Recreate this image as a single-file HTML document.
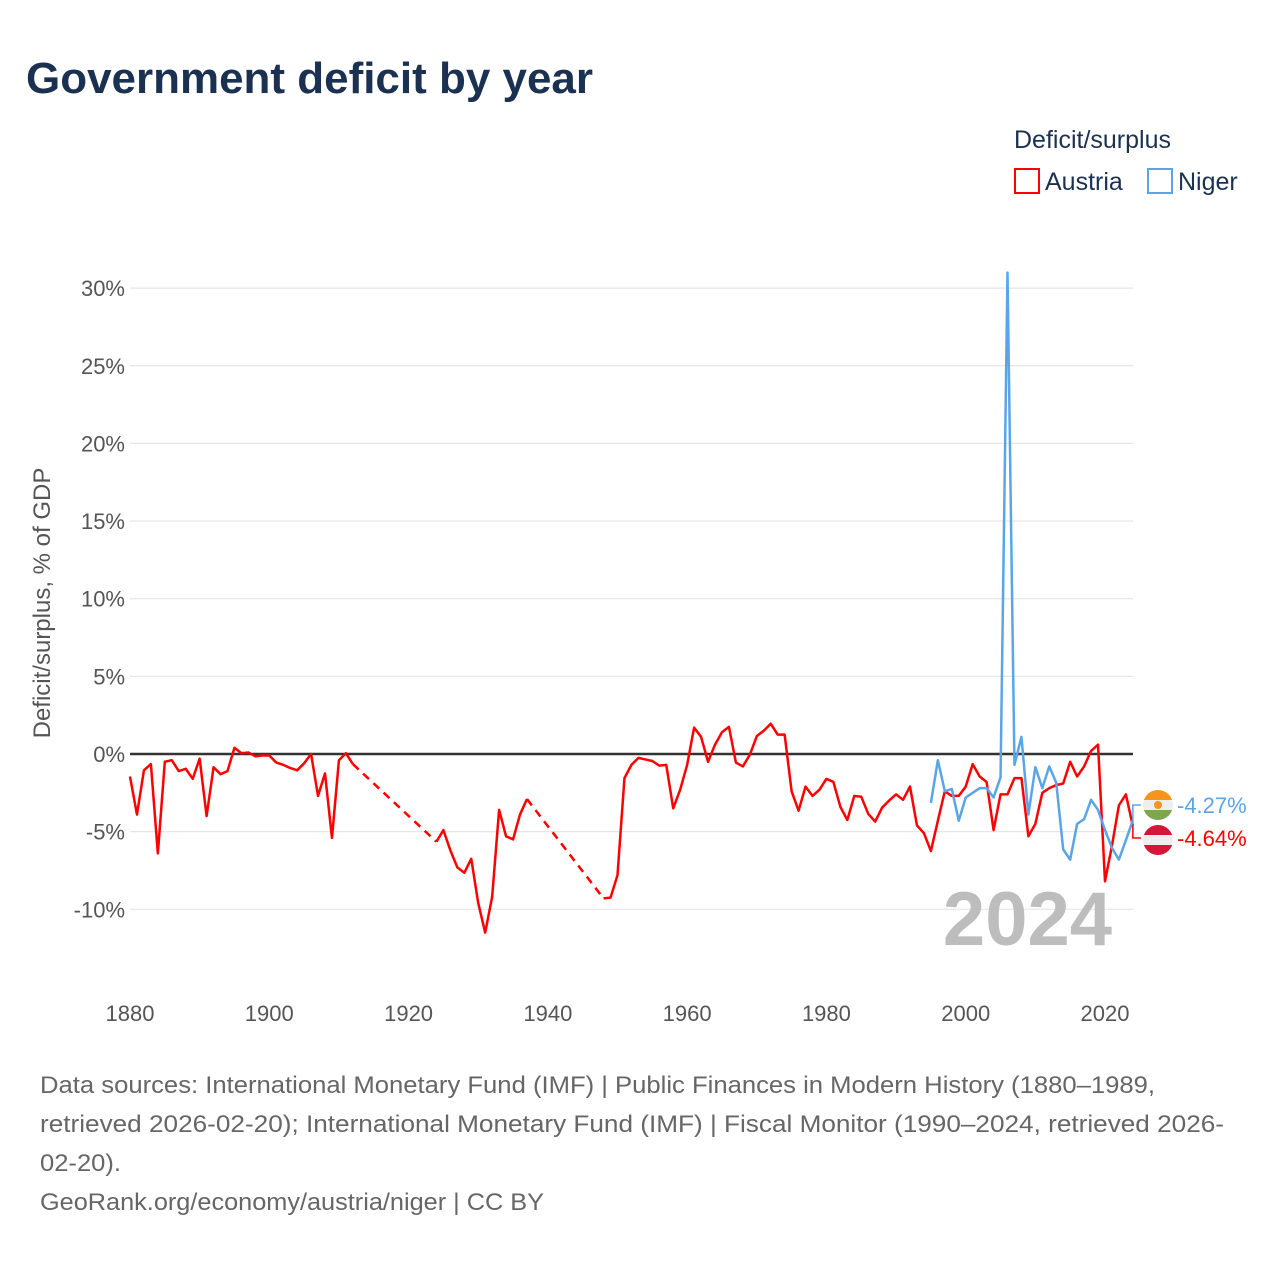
<!DOCTYPE html>
<html><head><meta charset="utf-8"><style>
body{margin:0;background:#fff;font-family:"Liberation Sans",sans-serif;}
#wrap{position:relative;width:1280px;height:1280px;overflow:hidden;}
</style></head><body>
<div id="wrap">
<svg id="chart" width="1280" height="1280" xmlns="http://www.w3.org/2000/svg">
<text x="26" y="93" font-size="44" font-weight="bold" fill="#1b3151" textLength="567" lengthAdjust="spacingAndGlyphs">Government deficit by year</text>
<text x="1014" y="148" font-size="25" fill="#1b3151">Deficit/surplus</text>
<g><rect x="1015" y="169" width="24" height="24" fill="none" stroke="#f00" stroke-width="2"/><text x="1045" y="190" font-size="25" fill="#1b3151">Austria</text></g>
<g><rect x="1148" y="169" width="24" height="24" fill="none" stroke="#5aa5e8" stroke-width="2"/><text x="1178" y="190" font-size="25" fill="#1b3151">Niger</text></g>
<g id="grid"></g><g id="yticks"></g><g id="xticks"></g>
<text transform="translate(50,603) rotate(-90)" text-anchor="middle" font-size="24" fill="#555">Deficit/surplus, % of GDP</text>
<text x="1112" y="945" text-anchor="end" font-size="76" font-weight="bold" fill="#bdbdbd">2024</text>
<g id="series"></g>
<g id="endlabels"></g>
<g font-size="24" fill="#666">
<text x="40" y="1093" textLength="1115" lengthAdjust="spacingAndGlyphs">Data sources: International Monetary Fund (IMF) | Public Finances in Modern History (1880–1989,</text>
<text x="40" y="1132" textLength="1184" lengthAdjust="spacingAndGlyphs">retrieved 2026-02-20); International Monetary Fund (IMF) | Fiscal Monitor (1990–2024, retrieved 2026-</text>
<text x="40" y="1171" textLength="81" lengthAdjust="spacingAndGlyphs">02-20).</text>
<text x="40" y="1210" textLength="504" lengthAdjust="spacingAndGlyphs">GeoRank.org/economy/austria/niger | CC BY</text>
</g>
</svg>
</div>
<script>
const austriaYears=[1880,1881,1882,1883,1884,1885,1886,1887,1888,1889,1890,1891,1892,1893,1894,1895,1896,1897,1898,1899,1900,1901,1902,1903,1904,1905,1906,1907,1908,1909,1910,1911,1912,1924,1925,1926,1927,1928,1929,1930,1931,1932,1933,1934,1935,1936,1937,1948,1949,1950,1951,1952,1953,1954,1955,1956,1957,1958,1959,1960,1961,1962,1963,1964,1965,1966,1967,1968,1969,1970,1971,1972,1973,1974,1975,1976,1977,1978,1979,1980,1981,1982,1983,1984,1985,1986,1987,1988,1989,1990,1991,1992,1993,1994,1995,1996,1997,1998,1999,2000,2001,2002,2003,2004,2005,2006,2007,2008,2009,2010,2011,2012,2013,2014,2015,2016,2017,2018,2019,2020,2021,2022,2023,2024];
const austriaValues=[-1.45,-3.9,-1.05,-0.65,-6.4,-0.5,-0.4,-1.1,-0.95,-1.6,-0.3,-4.0,-0.85,-1.3,-1.1,0.4,0.05,0.1,-0.15,-0.1,-0.1,-0.55,-0.7,-0.9,-1.05,-0.6,0,-2.7,-1.25,-5.4,-0.4,0.05,-0.65,-5.65,-4.9,-6.2,-7.3,-7.65,-6.75,-9.6,-11.5,-9.2,-3.6,-5.3,-5.5,-3.9,-2.9,-9.3,-9.25,-7.8,-1.55,-0.7,-0.25,-0.35,-0.45,-0.75,-0.7,-3.5,-2.3,-0.7,1.7,1.1,-0.5,0.6,1.4,1.75,-0.55,-0.8,-0.05,1.15,1.5,1.95,1.25,1.25,-2.4,-3.65,-2.1,-2.7,-2.3,-1.6,-1.8,-3.4,-4.25,-2.7,-2.75,-3.85,-4.35,-3.45,-3.0,-2.6,-2.95,-2.1,-4.6,-5.1,-6.25,-4.3,-2.4,-2.7,-2.7,-2.1,-0.65,-1.45,-1.8,-4.9,-2.6,-2.6,-1.55,-1.55,-5.3,-4.5,-2.5,-2.2,-2.0,-1.9,-0.5,-1.45,-0.8,0.2,0.6,-8.2,-5.9,-3.3,-2.6,-4.64];
const nigerYears=[1995,1996,1997,1998,1999,2000,2001,2002,2003,2004,2005,2006,2007,2008,2009,2010,2011,2012,2013,2014,2015,2016,2017,2018,2019,2020,2021,2022,2023,2024];
const nigerValues=[-3.15,-0.4,-2.4,-2.25,-4.3,-2.8,-2.5,-2.2,-2.2,-2.8,-1.5,31.0,-0.7,1.1,-3.9,-0.85,-2.2,-0.8,-1.85,-6.15,-6.8,-4.5,-4.2,-2.95,-3.6,-4.9,-6.05,-6.8,-5.55,-4.27];
const yTicks=[-10,-5,0,5,10,15,20,25,30];
const xTicks=[1880,1900,1920,1940,1960,1980,2000,2020];

const NS='http://www.w3.org/2000/svg';
const X0=130,X1=1105,Y0=754,PX=15.53;
const xs=y=>X0+(y-1880)*(X1-X0)/140;
const ys=v=>Y0-v*PX;
function mk(tag,attrs,parent){const e=document.createElementNS(NS,tag);for(const k in attrs)e.setAttribute(k,attrs[k]);parent.appendChild(e);return e;}
const grid=document.getElementById('grid'),yt=document.getElementById('yticks'),xt=document.getElementById('xticks');
yTicks.forEach(t=>{
  const l=mk('line',{x1:130,x2:1133,y1:ys(t),y2:ys(t),stroke:t===0?'#333':'#e6e6e6','stroke-width':t===0?2.5:1.2},grid);
  
  
  const tx=mk('text',{x:125,y:ys(t)+8,'text-anchor':'end','font-size':22,fill:'#555'},yt);
  tx.textContent=t+'%';
  
  
});
xTicks.forEach(t=>{
  const tx=mk('text',{x:xs(t),y:1021,'text-anchor':'middle','font-size':22,fill:'#555'},xt);
  tx.textContent=t;
  
  
});
const sg=document.getElementById('series');
function drawSeries(years,vals,color,name){
  const g=mk('g',{},sg);
  
  
  let seg=[[years[0],vals[0]]];
  const flush=()=>{if(seg.length>1){const p=mk('polyline',{points:seg.map(d=>xs(d[0])+','+ys(d[1])).join(' '),fill:'none',stroke:color,'stroke-width':2.5,'stroke-linejoin':'round'},g);}};
  for(let i=1;i<years.length;i++){
    if(years[i]-years[i-1]>1){
      flush();
      const d=mk('line',{x1:xs(years[i-1]),y1:ys(vals[i-1]),x2:xs(years[i]),y2:ys(vals[i]),stroke:color,'stroke-width':2.5,'stroke-dasharray':'8,6'},g);
      
      
      seg=[[years[i],vals[i]]];
    } else seg.push([years[i],vals[i]]);
  }
  flush();
}
drawSeries(austriaYears,austriaValues,'#ff0000','austria-line');
drawSeries(nigerYears,nigerValues,'#5aa5e8','niger-line');
const el=document.getElementById('endlabels');
const lastN=nigerValues[nigerValues.length-1],lastA=austriaValues[austriaValues.length-1];
const ny=805,ay=838;
const xe=xs(2024);
let c=mk('polyline',{points:`${xe},${ys(lastN)} ${xe},${ny} ${xe+8},${ny}`,fill:'none',stroke:'#5aa5e8','stroke-width':1.5},el);

c=mk('polyline',{points:`${xe},${ys(lastA)} ${xe},${ay} ${xe+8},${ay}`,fill:'none',stroke:'#ff0000','stroke-width':1.5},el);

const nf=mk('g',{},el);
mk('clipPath',{id:'cn'},nf);mk('circle',{cx:1158,cy:ny,r:15},document.getElementById('cn'));
mk('rect',{x:1143,y:ny-15,width:30,height:10,fill:'#f7941d','clip-path':'url(#cn)'},nf);
mk('rect',{x:1143,y:ny-5,width:30,height:10,fill:'#eee','clip-path':'url(#cn)'},nf);
mk('rect',{x:1143,y:ny+5,width:30,height:10,fill:'#7ca750','clip-path':'url(#cn)'},nf);
mk('circle',{cx:1158,cy:ny,r:4,fill:'#f7941d'},nf);
const af=mk('g',{},el);
mk('clipPath',{id:'ca'},af);mk('circle',{cx:1158,cy:ay+2,r:15},document.getElementById('ca'));
mk('rect',{x:1143,y:ay-13,width:30,height:10,fill:'#d4163a','clip-path':'url(#ca)'},af);
mk('rect',{x:1143,y:ay-3,width:30,height:10,fill:'#eee','clip-path':'url(#ca)'},af);
mk('rect',{x:1143,y:ay+7,width:30,height:10,fill:'#d4163a','clip-path':'url(#ca)'},af);
let t=mk('text',{x:1177,y:ny+8,'font-size':22,fill:'#5aa5e8'},el);t.textContent=lastN.toFixed(2)+'%';

t=mk('text',{x:1177,y:ay+8,'font-size':22,fill:'#ff0000'},el);t.textContent=lastA.toFixed(2)+'%';

</script>
</body></html>
